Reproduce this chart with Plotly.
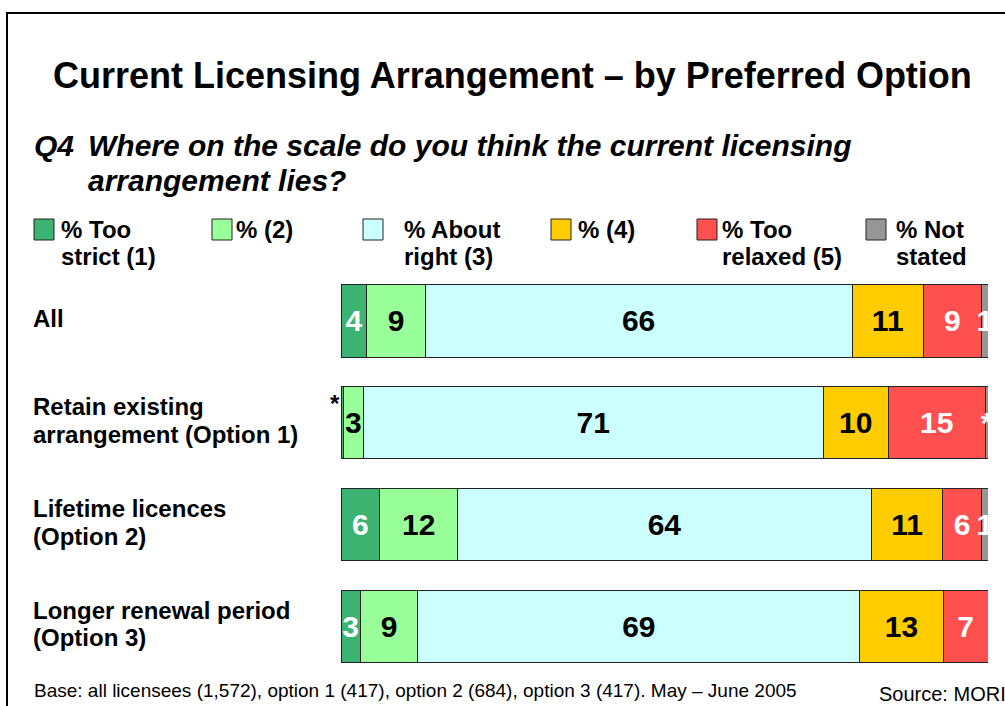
import plotly.graph_objects as go

# ---------------- data ----------------
categories = ["All", "Retain existing\narrangement (Option 1)",
              "Lifetime licences\n(Option 2)", "Longer renewal period\n(Option 3)"]
series_names = ["% Too strict (1)", "% (2)", "% About right (3)", "% (4)",
                "% Too relaxed (5)", "% Not stated"]
legend_labels = ["% Too\nstrict (1)", "% (2)", "% About\nright (3)", "% (4)",
                 "% Too\nrelaxed (5)", "% Not\nstated"]
# values per series, one per category ("*" = less than 0.5%, estimated 0.4)
too_strict = [4, 0.4, 6, 3]
s2 = [9, 3, 12, 9]
about_right = [66, 71, 64, 69]
s4 = [11, 10, 11, 13]
too_relaxed = [9, 15, 6, 7]
not_stated = [1, 0.4, 1, None]
values = [too_strict, s2, about_right, s4, too_relaxed, not_stated]
# printed labels
lab_too_strict = ["4", "", "6", "3"]
lab_s2 = ["9", "3", "12", "9"]
lab_about_right = ["66", "71", "64", "69"]
lab_s4 = ["11", "10", "11", "13"]
lab_too_relaxed = ["9", "15", "6", "7"]
lab_not_stated = ["1", "*", "1", ""]
labels = [lab_too_strict, lab_s2, lab_about_right, lab_s4, lab_too_relaxed, lab_not_stated]

colors = ["#3CB371", "#99FF99", "#CCFFFF", "#FFCC00", "#FF5050", "#969696"]
text_colors = ["white", "black", "black", "black", "white", "white"]

title = "Current Licensing Arrangement – by Preferred Option"
q_num = "Q4"
question_lines = ["Where on the scale do you think the current licensing",
                  "arrangement lies?"]
base_note = "Base: all licensees (1,572), option 1 (417), option 2 (684), option 3 (417). May – June 2005"
source_note = "Source: MORI"

# ---------------- layout constants ----------------
W, H = 1005, 706
L, R, T, B = 341, 17, 270, 29
PW, PH = W - L - R, H - T - B
FONT = "Liberation Sans, Arial, sans-serif"


def px_x(px):
    return (px - L) / PW


def px_y(py):
    return (H - B - py) / PH


cat_keys = [c.replace("\n", " ") for c in categories]

fig = go.Figure()
for name, vals, labs, col, tcol in zip(series_names, values, labels, colors, text_colors):
    fig.add_trace(go.Bar(
        y=cat_keys, x=vals, name=name, orientation="h",
        marker=dict(color=col, line=dict(color="#222222", width=1)),
        text=labs, textposition="inside", insidetextanchor="middle",
        constraintext="none",
        textfont=dict(family=FONT, size=30, color=tcol, weight="bold"),
        hoverinfo="skip",
    ))

annotations = []
# title
annotations.append(dict(xref="paper", yref="paper", x=px_x(512.5), y=px_y(75),
                        text=title, showarrow=False, xanchor="center", yanchor="middle",
                        font=dict(family=FONT, size=36, color="black", weight="bold")))
# question
qfont = dict(family=FONT, size=30, color="black", weight="bold", style="italic")
annotations.append(dict(xref="paper", yref="paper", x=px_x(32), y=px_y(146), text=q_num,
                        showarrow=False, xanchor="left", yanchor="middle", font=qfont))
for i, line in enumerate(question_lines):
    annotations.append(dict(xref="paper", yref="paper", x=px_x(86), y=px_y(146 + 34 * i),
                            text=line, showarrow=False, xanchor="left", yanchor="middle",
                            font=qfont))

# legend (custom)
swatch_x = [34, 212, 363, 551, 697, 866]
text_x = [59, 234, 402, 576, 720, 894]
shapes = []
lfont = dict(family=FONT, size=24, color="black", weight="bold")
for sx, tx, lab, col in zip(swatch_x, text_x, legend_labels, colors):
    shapes.append(dict(type="rect", xref="paper", yref="paper",
                       x0=px_x(sx), x1=px_x(sx + 20), y0=px_y(240), y1=px_y(219),
                       fillcolor=col, line=dict(color="#222222", width=1)))
    for j, line in enumerate(lab.split("\n")):
        annotations.append(dict(xref="paper", yref="paper", x=px_x(tx), y=px_y(229 + 27.5 * j),
                                text=line, showarrow=False, xanchor="left", yanchor="middle",
                                font=lfont))

# category labels
cfont = dict(family=FONT, size=24, color="black", weight="bold")
for key, cat in zip(cat_keys, categories):
    lines = cat.split("\n")
    n = len(lines)
    for j, line in enumerate(lines):
        shift = ((n - 1) / 2 - j) * 27.5 + 2
        annotations.append(dict(xref="paper", yref="y", x=px_x(31), y=key, yshift=shift,
                                text=line, showarrow=False, xanchor="left", yanchor="middle",
                                font=cfont))

# asterisk for "too strict" in option 1 (drawn left of the bar)
annotations.append(dict(xref="x", yref="y", x=0, y=cat_keys[1], xshift=1, yshift=19,
                        text="*", showarrow=False, xanchor="right", yanchor="middle",
                        font=dict(family=FONT, size=24, color="black", weight="bold")))

# footnotes
annotations.append(dict(xref="paper", yref="paper", x=px_x(32), y=px_y(690), text=base_note,
                        showarrow=False, xanchor="left", yanchor="middle",
                        font=dict(family=FONT, size=19, color="black")))
annotations.append(dict(xref="paper", yref="paper", x=px_x(877), y=px_y(694), text=source_note,
                        showarrow=False, xanchor="left", yanchor="middle",
                        font=dict(family=FONT, size=20, color="black")))

# frame
shapes.append(dict(type="rect", xref="paper", yref="paper",
                   x0=px_x(7), x1=px_x(W + 10), y0=px_y(H + 10), y1=px_y(13),
                   line=dict(color="black", width=2), fillcolor="rgba(0,0,0,0)", layer="above"))

fig.update_layout(
    width=W, height=H, margin=dict(l=L, r=R, t=T, b=B, pad=0),
    barmode="stack", barnorm="percent", bargap=0.29,
    showlegend=False, plot_bgcolor="white", paper_bgcolor="white",
    xaxis=dict(range=[0, 100], visible=False, fixedrange=True),
    yaxis=dict(categoryorder="array", categoryarray=cat_keys, autorange="reversed",
               showticklabels=False, showgrid=False, zeroline=False, showline=False,
               ticks="", fixedrange=True),
    annotations=annotations, shapes=shapes,
    font=dict(family=FONT),
)

fig.write_html("out.html", config={"displayModeBar": False},
               post_script="document.body.style.margin='0';")
